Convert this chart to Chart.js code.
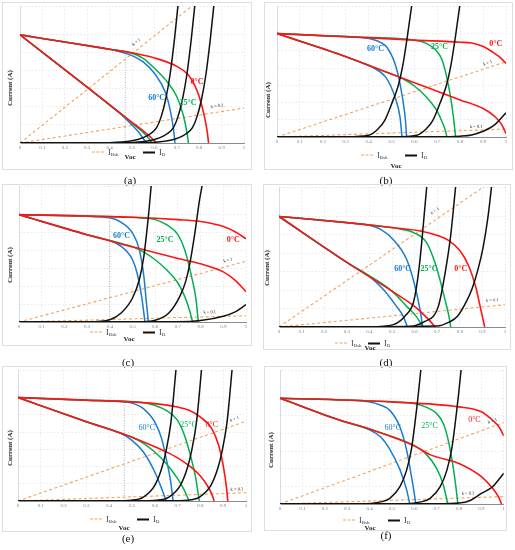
<!DOCTYPE html>
<html lang="en">
<head>
<meta charset="UTF-8">
<title>I-V curves at 0, 25 and 60 °C</title>
<script src="https://cdn.jsdelivr.net/npm/chart.js"></script>
<style>
  body { margin: 0; width: 515px; height: 550px; position: relative; background: #fff;
         font-family: "Liberation Serif", "DejaVu Serif", serif; overflow: hidden; }
  .box { position: absolute; border: 1px solid #dedede; box-sizing: border-box; }
  canvas { position: absolute; }
  .txt { position: absolute; white-space: nowrap; transform: translate(-50%, -50%); color: #222; }
  .ytitle { font-size: 7px; font-weight: bold; transform: translate(-50%, -50%) rotate(-90deg); }
  .voc { font-size: 7px; font-weight: bold; }
  .cap { font-size: 11px; color: #111; }
  .leg { position: absolute; display: flex; align-items: center; font-size: 8px; color: #333; transform: translateY(-50%); }
  .leg sub { font-size: 5px; vertical-align: -1px; }
  .dash { width: 12px; border-top: 1.5px dashed #f5a35c; margin-right: 4px; }
  .solid { width: 12px; border-top: 2px solid #111; margin-right: 4px; }
</style>
</head>
<body>
<script>
// ---- data (x = Voc, y = current in arbitrary units, Isc = 6) ----

// (a)
const A_RED_HI = [[0,6],[0.2,5.6],[0.4,5.2],[0.5,5.0],[0.6,4.72],[0.7,4.25],[0.75,3.8],[0.78,3.2],[0.8,2.58],[0.82,1.66],[0.835,0.7],[0.842,0]];
const A_GRN_HI = [[0,6],[0.2,5.6],[0.4,5.2],[0.5,4.98],[0.55,4.7],[0.6,4.15],[0.65,3.5],[0.7,2.58],[0.73,1.5],[0.745,0.6],[0.752,0]];
const A_BLU_HI = [[0,6],[0.2,5.6],[0.4,5.2],[0.45,5.05],[0.5,4.85],[0.55,4.5],[0.6,3.87],[0.65,2.77],[0.67,1.85],[0.685,0.8],[0.692,0]];
const A_RED_LO = [[0,6],[0.31,3.0],[0.5,1.15],[0.55,0.67],[0.59,0.25],[0.61,0]];
const A_GRN_LO = [[0,6],[0.31,3.0],[0.45,1.62],[0.5,1.1],[0.55,0.58],[0.575,0.25],[0.59,0]];
const A_BLU_LO = [[0,6],[0.31,3.0],[0.4,2.1],[0.45,1.6],[0.5,1.0],[0.53,0.6],[0.55,0.25],[0.565,0]];
const A_D60 = [[0,0],[0.4,0.02],[0.5,0.12],[0.55,0.3],[0.58,0.5],[0.61,0.85],[0.63,1.45],[0.65,2.4],[0.67,3.8],[0.69,5.8],[0.71,8.2]];
const A_D25 = [[0,0],[0.475,0.02],[0.575,0.12],[0.625,0.3],[0.655,0.5],[0.685,0.85],[0.705,1.45],[0.725,2.4],[0.745,3.8],[0.765,5.8],[0.785,8.2]];
const A_D0  = [[0,0],[0.56,0.02],[0.66,0.12],[0.71,0.3],[0.74,0.5],[0.77,0.85],[0.79,1.45],[0.81,2.4],[0.83,3.8],[0.85,5.8],[0.87,8.2]];

// (b)
const B_RED_HI = [[0,6],[0.3,5.82],[0.6,5.62],[0.8,5.5],[0.85,5.45],[0.9,5.25],[0.95,4.85],[0.98,4.55],[1.0,4.27]];
const B_GRN_HI = [[0,6],[0.3,5.82],[0.6,5.62],[0.65,5.45],[0.7,4.95],[0.72,4.5],[0.74,3.55],[0.76,2.15],[0.77,1.2],[0.78,0]];
const B_BLU_HI = [[0,6],[0.2,5.88],[0.38,5.76],[0.42,5.66],[0.45,5.5],[0.479,5.22],[0.515,4.26],[0.537,3.1],[0.556,1.56],[0.562,0.8],[0.566,0]];
const B_RED_LO = [[0,6],[0.275,4.78],[0.5,3.65],[0.668,2.81],[0.8,2.15],[0.9,1.65],[0.95,1.2],[0.98,0.75],[1.0,0.2]];
const B_GRN_LO = [[0,6],[0.275,4.78],[0.5,3.65],[0.55,3.38],[0.6,2.96],[0.65,2.35],[0.7,1.48],[0.72,0.9],[0.735,0.4],[0.742,0]];
const B_BLU_LO = [[0,6],[0.275,4.78],[0.35,4.4],[0.42,4.02],[0.479,3.39],[0.515,2.33],[0.537,1.17],[0.546,0]];
const B_D60 = [[0,0],[0.3,0.01],[0.4,0.1],[0.44,0.45],[0.47,0.95],[0.5,1.9],[0.53,3.0],[0.55,4.2],[0.57,5.9],[0.59,7.8],[0.6,8.8]];
const B_D25 = [[0,0],[0.51,0.01],[0.61,0.1],[0.65,0.45],[0.68,0.95],[0.71,1.9],[0.74,3.0],[0.76,4.2],[0.78,5.9],[0.8,7.8],[0.81,8.8]];
const B_D0  = [[0,0],[0.7,0.01],[0.8,0.05],[0.85,0.12],[0.9,0.33],[0.95,0.7],[1.0,1.4]];

// (c)
const C_RED_HI = [[0,6],[0.5,5.85],[0.7,5.72],[0.8,5.62],[0.85,5.5],[0.9,5.34],[0.95,5.06],[1.0,4.65]];
const C_GRN_HI = [[0,6],[0.3,5.91],[0.55,5.8],[0.6,5.72],[0.65,5.44],[0.7,4.88],[0.73,4.04],[0.76,2.55],[0.78,1.25],[0.79,0]];
const C_BLU_HI = [[0,6],[0.3,5.91],[0.4,5.82],[0.45,5.57],[0.5,4.97],[0.53,4.04],[0.55,2.55],[0.56,1.25],[0.57,0]];
const C_RED_LO = [[0,6],[0.3,4.88],[0.5,4.2],[0.7,3.55],[0.8,3.25],[0.9,2.8],[0.95,2.35],[1.0,1.7]];
const C_GRN_LO = [[0,6],[0.3,4.88],[0.5,4.2],[0.55,3.9],[0.6,3.48],[0.65,2.92],[0.7,2.18],[0.73,1.43],[0.75,0.7],[0.765,0]];
const C_BLU_LO = [[0,6],[0.3,4.88],[0.35,4.72],[0.4,4.55],[0.45,4.23],[0.5,3.48],[0.52,2.74],[0.54,1.43],[0.555,0]];
const C_D60 = [[0,0],[0.3,0.01],[0.4,0.13],[0.45,0.5],[0.5,1.34],[0.53,2.36],[0.55,3.67],[0.57,5.9],[0.585,7.95],[0.595,9]];
const C_D25 = [[0,0],[0.52,0.01],[0.6,0.1],[0.66,0.5],[0.709,1.45],[0.735,2.3],[0.753,3.3],[0.775,5.0],[0.795,6.8],[0.81,7.9],[0.82,9]];
const C_D0  = [[0,0],[0.7,0.01],[0.8,0.08],[0.9,0.32],[0.95,0.55],[1.0,0.97]];

// (d)
const D_RED_HI = [[0,6],[0.314,5.65],[0.5,5.4],[0.631,5.2],[0.712,4.92],[0.75,4.7],[0.8,4.15],[0.84,3.3],[0.87,2.2],[0.89,1.12],[0.91,0]];
const D_GRN_HI = [[0,6],[0.314,5.65],[0.45,5.47],[0.53,5.33],[0.6,5.1],[0.653,4.58],[0.69,3.5],[0.712,2.57],[0.73,1.7],[0.75,0.7],[0.76,0]];
const D_BLU_HI = [[0,6],[0.314,5.65],[0.4,5.52],[0.45,5.3],[0.506,4.74],[0.565,3.66],[0.602,2.2],[0.624,0.94],[0.636,0]];
const D_RED_LO = [[0,6],[0.314,3.4],[0.5,1.95],[0.609,1.03],[0.65,0.55],[0.683,0.12],[0.69,0]];
const D_GRN_LO = [[0,6],[0.314,3.4],[0.5,1.95],[0.565,1.12],[0.609,0.55],[0.636,0]];
const D_BLU_LO = [[0,6],[0.314,3.4],[0.4,2.75],[0.462,2.03],[0.52,1.12],[0.55,0.58],[0.568,0]];
const D_D60 = [[0,0],[0.4,0.01],[0.506,0.13],[0.558,0.6],[0.594,1.3],[0.61,2.3],[0.624,3.66],[0.638,5.47],[0.655,7.8],[0.665,9]];
const D_D25 = [[0,0],[0.55,0.02],[0.646,0.3],[0.705,1.12],[0.735,2.93],[0.76,5.0],[0.783,7.8],[0.79,8.6]];
const D_D0  = [[0,0],[0.7,0.05],[0.75,0.25],[0.79,0.58],[0.83,1.4],[0.853,2.03],[0.88,3.1],[0.904,4.38],[0.925,6.0],[0.943,7.9],[0.95,8.6]];

// (e)
const E_RED_HI = [[0,6],[0.3,5.85],[0.6,5.65],[0.7,5.45],[0.75,5.26],[0.8,4.87],[0.85,4.2],[0.88,3.23],[0.9,2.07],[0.915,0.72],[0.92,0]];
const E_GRN_HI = [[0,6],[0.3,5.85],[0.55,5.7],[0.6,5.55],[0.65,5.26],[0.7,4.68],[0.73,3.81],[0.76,2.46],[0.78,1.3],[0.795,0]];
const E_BLU_HI = [[0,6],[0.3,5.85],[0.45,5.77],[0.5,5.68],[0.55,5.36],[0.6,4.58],[0.63,3.62],[0.65,2.46],[0.67,1.1],[0.68,0]];
const E_RED_LO = [[0,6],[0.3,4.6],[0.5,3.7],[0.6,3.15],[0.65,2.85],[0.7,2.5],[0.75,2.05],[0.8,1.45],[0.83,0.9],[0.85,0.4],[0.86,0]];
const E_GRN_LO = [[0,6],[0.3,4.6],[0.5,3.7],[0.55,3.35],[0.6,2.84],[0.65,2.17],[0.7,1.3],[0.73,0.62],[0.75,0]];
const E_BLU_LO = [[0,6],[0.3,4.6],[0.45,3.92],[0.5,3.52],[0.55,2.84],[0.6,1.68],[0.63,0.72],[0.65,0]];
const E_D60 = [[0,0],[0.4,0.01],[0.5,0.05],[0.55,0.23],[0.6,0.91],[0.63,1.88],[0.65,2.94],[0.67,4.49],[0.68,5.74],[0.694,7.8],[0.7,8.6]];
const E_D25 = [[0,0],[0.51,0.01],[0.612,0.05],[0.662,0.23],[0.712,0.91],[0.742,1.88],[0.762,2.94],[0.782,4.49],[0.792,5.74],[0.806,7.8],[0.812,8.6]];
const E_D0  = [[0,0],[0.65,0.01],[0.746,0.05],[0.796,0.23],[0.846,0.91],[0.876,1.88],[0.896,2.94],[0.916,4.49],[0.926,5.74],[0.94,7.8],[0.946,8.6]];

// (f)
const F_RED_HI = [[0,6],[0.5,5.79],[0.8,5.51],[0.9,5.23],[0.95,4.75],[0.98,4.35],[1.0,3.87]];
const F_GRN_HI = [[0,6],[0.5,5.79],[0.6,5.7],[0.65,5.51],[0.7,5.13],[0.73,4.57],[0.75,3.72],[0.77,2.4],[0.785,1.08],[0.795,0]];
const F_BLU_HI = [[0,6],[0.3,5.9],[0.402,5.78],[0.45,5.6],[0.491,5.31],[0.536,4.37],[0.566,3.05],[0.588,1.54],[0.6,0.6],[0.607,0]];
const F_RED_LO = [[0,6],[0.268,4.75],[0.4,4.25],[0.6,3.3],[0.67,2.8],[0.8,2.3],[0.9,1.55],[0.95,0.89],[0.98,0.32],[0.99,0]];
const F_GRN_LO = [[0,6],[0.268,4.75],[0.4,4.25],[0.55,3.6],[0.6,3.3],[0.65,2.87],[0.7,2.02],[0.73,1.08],[0.75,0]];
const F_BLU_LO = [[0,6],[0.268,4.75],[0.4,4.2],[0.45,3.8],[0.491,3.1],[0.536,1.95],[0.566,0.8],[0.58,0]];
const F_D60 = [[0,0],[0.35,0.01],[0.45,0.12],[0.491,0.32],[0.536,0.98],[0.566,1.92],[0.588,3.15],[0.61,5.31],[0.62,6.44],[0.63,7.7],[0.635,8.4]];
const F_D25 = [[0,0],[0.53,0.01],[0.63,0.12],[0.671,0.32],[0.716,0.98],[0.746,1.92],[0.768,3.15],[0.79,5.31],[0.8,6.44],[0.81,7.7],[0.815,8.4]];
const F_D0  = [[0,0],[0.7,0.01],[0.8,0.05],[0.85,0.2],[0.9,0.6],[0.95,0.98],[1.0,1.74]];

// k = 1 and k = 0.1 load lines: current reached at Voc = 1, per panel a..f
const K1_END  = [9.9, 4.37, 3.39, 8.4, 4.62, 4.62];
const K01_END = [1.94, 0.46, 0.35, 1.21, 0.48, 0.42];
// dotted vertical guide (Voc, top current), only in a, c, e
const GUIDE_X   = [0.47, null, 0.4, null, 0.466, null];
const GUIDE_TOP = [5.0, null, 5.82, null, 5.75, null];

// temperature labels [text, Voc, current, colour key]
const A_NOTES = [['0°C',0.79,3.4,'red'],['60°C',0.61,2.5,'blue'],['25°C',0.75,2.25,'green']];
const B_NOTES = [['60°C',0.43,5.13,'blue'],['25°C',0.71,5.23,'green'],['0°C',0.955,5.42,'red']];
const C_NOTES = [['60°C',0.452,4.79,'blue'],['25°C',0.643,4.6,'green'],['0°C',0.944,4.6,'red']];
const D_NOTES = [['60°C',0.547,3.15,'blue'],['25°C',0.664,3.15,'green'],['0°C',0.804,3.15,'red']];
const E_NOTES = [['60°C',0.565,4.24,'blue'],['25°C',0.748,4.43,'green'],['0°C',0.85,4.43,'red']];
const F_NOTES = [['60°C',0.504,4.32,'blue'],['25°C',0.668,4.42,'green'],['0°C',0.869,4.75,'red']];
// k labels [Voc, current] for "k = 1" and "k = 0.1"
const K1_LABEL  = [[0.52,5.6],[0.92,4.3],[0.92,3.45],[0.69,6.3],[0.95,4.75],[0.95,4.7]];
const K01_LABEL = [[0.88,2.05],[0.87,0.6],[0.84,0.55],[0.944,1.45],[0.96,0.68],[0.84,0.6]];

const X_TICKS = [0, 0.1, 0.2, 0.3, 0.4, 0.5, 0.6, 0.7, 0.8, 0.9, 1];

// ---- layout (page pixels) ----
const IDS = ['a','b','c','d','e','f'];
const BOX  = [[2,2,250,168],[264,2,249,168],[2,184,250,162],[263,184,248,166],[2,366,250,166],[264,366,243,165]];
const PLOT = [[20,244,6,143],[277,506,6,137],[19,246,186,322],[279,505,187,327],[18,246,370,501],[280,504,370,504]];
const LEGEND = [[92,143,152],[361,405,155],[90,143,332],[335,368,343],[90,137,519],[343,388,520]];
const VOC    = [[130,157],[396,166],[129,339],[370,348],[124,528],[370,528]];
const YTITLE = [[10,88],[268,100],[10,265],[267,268],[10,448],[271,450]];
const CAPTION = [[130,180],[386,180],[128,362],[386,362],[128,538],[386,535]];
const Y_MAX = 7.6;

const COL = { red: '#ff1414', green: '#00b050', blue: '#1a7cd0', black: '#111111', orange: '#f5a35c', guide: '#9a9a9a' };

const SERIES = {
  a: [A_RED_HI, A_GRN_HI, A_BLU_HI, A_RED_LO, A_GRN_LO, A_BLU_LO, A_D60, A_D25, A_D0, A_NOTES],
  b: [B_RED_HI, B_GRN_HI, B_BLU_HI, B_RED_LO, B_GRN_LO, B_BLU_LO, B_D60, B_D25, B_D0, B_NOTES],
  c: [C_RED_HI, C_GRN_HI, C_BLU_HI, C_RED_LO, C_GRN_LO, C_BLU_LO, C_D60, C_D25, C_D0, C_NOTES],
  d: [D_RED_HI, D_GRN_HI, D_BLU_HI, D_RED_LO, D_GRN_LO, D_BLU_LO, D_D60, D_D25, D_D0, D_NOTES],
  e: [E_RED_HI, E_GRN_HI, E_BLU_HI, E_RED_LO, E_GRN_LO, E_BLU_LO, E_D60, E_D25, E_D0, E_NOTES],
  f: [F_RED_HI, F_GRN_HI, F_BLU_HI, F_RED_LO, F_GRN_LO, F_BLU_LO, F_D60, F_D25, F_D0, F_NOTES]
};

function addText(html, cls, x, y) {
  const el = document.createElement('div');
  el.className = 'txt ' + cls;
  el.innerHTML = html;
  el.style.left = x + 'px';
  el.style.top = y + 'px';
  document.body.appendChild(el);
}

// draws temperature and k labels at data coordinates
const notesPlugin = {
  id: 'notes',
  afterDatasetsDraw(chart, args, opts) {
    const ctx = chart.ctx, xs = chart.scales.x, ys = chart.scales.y;
    ctx.save();
    ctx.textAlign = 'center';
    ctx.textBaseline = 'middle';
    ctx.font = (opts.bold ? 'bold ' : '') + '8px "Liberation Serif"';
    opts.notes.forEach(n => {
      ctx.fillStyle = COL[n[3]];
      ctx.fillText(n[0], xs.getPixelForValue(n[1]), ys.getPixelForValue(n[2]));
    });
    ctx.font = '4.5px "Liberation Serif"';
    ctx.fillStyle = '#222';
    opts.kLabels.forEach(k => {
      const dx = xs.getPixelForValue(1) - xs.getPixelForValue(0);
      const dy = ys.getPixelForValue(k.end) - ys.getPixelForValue(0);
      ctx.save();
      ctx.translate(xs.getPixelForValue(k.at[0]), ys.getPixelForValue(k.at[1]));
      ctx.rotate(Math.atan2(dy, dx));
      ctx.fillText(k.text, 0, 0);
      ctx.restore();
    });
    ctx.restore();
  }
};

IDS.forEach((id, i) => {
  const [bx, by, bw, bh] = BOX[i];
  const [x0, x1, yTop, yBase] = PLOT[i];
  const s = SERIES[id];

  const box = document.createElement('div');
  box.className = 'box';
  Object.assign(box.style, { left: bx + 'px', top: by + 'px', width: bw + 'px', height: bh + 'px' });
  document.body.appendChild(box);

  const cv = document.createElement('canvas');
  cv.width = bw; cv.height = bh;
  Object.assign(cv.style, { left: bx + 'px', top: by + 'px', width: bw + 'px', height: bh + 'px' });
  document.body.appendChild(cv);

  const line = (data, color, width) => ({
    data: data, borderColor: color, borderWidth: width, pointRadius: 0,
    cubicInterpolationMode: 'monotone', fill: false
  });
  const datasets = [
    line(s[6], COL.black, 1.5), line(s[7], COL.black, 1.5), line(s[8], COL.black, 1.5),
    line(s[0], COL.red, 1.6), line(s[3], COL.red, 1.6),
    line(s[1], COL.green, 1.5), line(s[4], COL.green, 1.5),
    line(s[2], COL.blue, 1.5), line(s[5], COL.blue, 1.5),
    { data: [[0, 0], [1, K1_END[i]]], borderColor: COL.orange, borderWidth: 1.1, borderDash: [3, 2.5], pointRadius: 0, tension: 0 },
    { data: [[0, 0], [1, K01_END[i]]], borderColor: COL.orange, borderWidth: 1.1, borderDash: [3, 2.5], pointRadius: 0, tension: 0 }
  ];
  if (GUIDE_X[i] !== null) {
    datasets.push({ data: [[GUIDE_X[i], 0], [GUIDE_X[i], GUIDE_TOP[i]]], borderColor: COL.guide,
                    borderWidth: 0.8, borderDash: [1, 1.5], pointRadius: 0, tension: 0 });
  }

  const xAxisH = 10;
  new Chart(cv, {
    type: 'line',
    data: { datasets: datasets },
    plugins: [notesPlugin],
    options: {
      responsive: false,
      animation: false,
      events: [],
      layout: { padding: { left: x0 - bx, right: bx + bw - x1, top: yTop - by, bottom: by + bh - yBase - xAxisH } },
      plugins: {
        legend: { display: false },
        tooltip: { enabled: false },
        notes: {
          notes: s[9], bold: i < 4,
          kLabels: [
            { text: 'k = 1', at: K1_LABEL[i], end: K1_END[i] },
            { text: 'k = 0.1', at: K01_LABEL[i], end: K01_END[i] }
          ]
        }
      },
      scales: {
        x: {
          type: 'linear', min: 0, max: 1,
          afterBuildTicks: sc => { sc.ticks = X_TICKS.map(v => ({ value: v })); },
          afterFit: sc => { sc.height = xAxisH; },
          ticks: { font: { size: 5, family: 'Liberation Serif' }, color: '#808080', padding: 2,
                   maxRotation: 0, autoSkip: false, callback: v => String(+v.toFixed(1)) },
          grid: { color: '#e9e9e9', drawTicks: false },
          border: { color: '#8c8c8c', width: 1, dash: [1.5, 2] }
        },
        y: {
          min: 0, max: Y_MAX,
          afterFit: sc => { sc.width = 0; },
          ticks: { display: false, stepSize: 1 },
          grid: { color: '#e9e9e9', drawTicks: false },
          border: { color: '#d4dbe8', width: 1, dash: [1.5, 2] }
        }
      }
    }
  });

  const [lx1, lx2, ly] = LEGEND[i];
  const leg = document.createElement('div');
  leg.className = 'leg';
  leg.style.left = lx1 + 'px';
  leg.style.top = ly + 'px';
  leg.innerHTML = '<span class="dash"></span><span>I<sub>Bsh</sub></span>';
  document.body.appendChild(leg);
  const leg2 = document.createElement('div');
  leg2.className = 'leg';
  leg2.style.left = lx2 + 'px';
  leg2.style.top = ly + 'px';
  leg2.innerHTML = '<span class="solid"></span><span>I<sub>D</sub></span>';
  document.body.appendChild(leg2);

  addText('Voc', 'voc', VOC[i][0], VOC[i][1]);
  addText('Current (A)', 'ytitle', YTITLE[i][0], YTITLE[i][1]);
  addText('(' + id + ')', 'cap', CAPTION[i][0], CAPTION[i][1]);
});
</script>
</body>
</html>
